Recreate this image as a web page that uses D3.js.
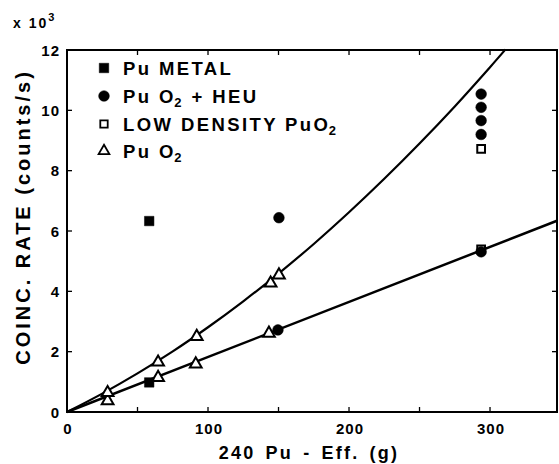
<!DOCTYPE html>
<html><head><meta charset="utf-8">
<script src="https://cdn.jsdelivr.net/npm/d3@7"></script>
<style>
html,body{margin:0;padding:0;background:#fff;}
svg text{font-family:"Liberation Sans",Arial,sans-serif;font-weight:bold;fill:#000;}
</style></head>
<body>
<svg id="chart" width="559" height="464"></svg>
<script>
// ---- data (x: 240Pu-eff grams, y: coinc. rate in 10^3 counts/s) ----
const xTicks = [0, 100, 200, 300];
const yTicks = [0, 2, 4, 6, 8, 10, 12];
// Pu METAL (filled squares)
const metalX = [58.3, 58.3];
const metalY = [0.98, 6.33];
// PuO2 + HEU (filled circles)
const heuX = [149.6, 150.3, 293.7, 293.7, 293.7, 293.7, 293.7];
const heuY = [2.72, 6.44, 5.31, 9.20, 9.66, 10.10, 10.54];
// LOW DENSITY PuO2 (open squares)
const lowX = [293.7, 293.7];
const lowY = [5.39, 8.72];
// PuO2 (open triangles)
const puo2X = [28.8, 28.8, 64.6, 64.6, 91.3, 92.0, 143.2, 144.4, 150.3];
const puo2Y = [0.37, 0.64, 1.14, 1.65, 1.59, 2.50, 2.61, 4.27, 4.54];
// Upper curve
const curveX = [0, 25, 50, 75, 100, 125, 150, 175, 200, 225, 250, 275, 300, 311];
const curveY = [0, 0.61, 1.28, 2.01, 2.81, 3.67, 4.59, 5.57, 6.62, 7.73, 8.90, 10.13, 11.43, 12.02];
// Lower straight line
const lineX = [0, 347.5];
const lineY = [0, 6.34];
const legendLabels = ["Pu METAL", "Pu O|2| + HEU", "LOW DENSITY PuO|2", "Pu O|2"];

// ---- layout ----
const L = 67, R = 557, T = 50, B = 412;
const svg = d3.select("#chart");
const x = d3.scaleLinear().domain([0, 347.5]).range([L, R]);
const y = d3.scaleLinear().domain([0, 12]).range([B, T]);

// frame
svg.append("rect").attr("x", L).attr("y", T).attr("width", R - L).attr("height", B - T)
  .attr("fill", "none").attr("stroke", "#000").attr("stroke-width", 2);

// ticks (inward)
const xMinor = d3.range(0, 347, 50);
const yMinor = d3.range(0, 12.01, 2);
const tk = svg.append("g").attr("stroke", "#000").attr("stroke-width", 1.3);
xMinor.forEach(v => {
  tk.append("line").attr("x1", x(v)).attr("x2", x(v)).attr("y1", B).attr("y2", B - 5);
  tk.append("line").attr("x1", x(v)).attr("x2", x(v)).attr("y1", T).attr("y2", T + 5);
});
yMinor.forEach(v => {
  tk.append("line").attr("x1", L).attr("x2", L + 5).attr("y1", y(v)).attr("y2", y(v));
  tk.append("line").attr("x1", R).attr("x2", R - 5).attr("y1", y(v)).attr("y2", y(v));
});

// tick labels
svg.append("g").selectAll("text").data(xTicks).join("text")
  .attr("x", d => x(d) + 1).attr("y", 434).attr("text-anchor", "middle")
  .attr("font-size", 15).attr("letter-spacing", 1).text(d => d);
svg.append("g").selectAll("text").data(yTicks).join("text")
  .attr("x", 60).attr("y", d => y(d) + 5.5).attr("text-anchor", "end")
  .attr("font-size", 15).attr("letter-spacing", 1).text(d => d);

// multiplier
const mult = svg.append("text").attr("x", 13).attr("y", 28).attr("font-size", 14).attr("letter-spacing", 2);
mult.append("tspan").text("x 10");
mult.append("tspan").attr("dy", -7).attr("font-size", 11).text("3");

// axis titles
svg.append("text").attr("x", 309).attr("y", 459).attr("text-anchor", "middle")
  .attr("font-size", 18).attr("letter-spacing", 2.2).attr("word-spacing", 3)
  .text("240 Pu - Eff. (g)");
svg.append("text").attr("transform", "translate(30,217) rotate(-90)").attr("text-anchor", "middle")
  .attr("font-size", 20).attr("letter-spacing", 3).text("COINC. RATE (counts/s)");

// lines
const ln = d3.line().x(d => x(d[0])).y(d => y(d[1]));
svg.append("path").datum(d3.zip(lineX, lineY)).attr("d", ln)
  .attr("fill", "none").attr("stroke", "#000").attr("stroke-width", 2.5);
const lnc = d3.line().x(d => x(d[0])).y(d => y(d[1])).curve(d3.curveCatmullRom);
svg.append("path").datum(d3.zip(curveX, curveY)).attr("d", lnc)
  .attr("fill", "none").attr("stroke", "#000").attr("stroke-width", 2.2);

// markers
const sq = d3.symbol().type(d3.symbolSquare);
const ci = d3.symbol().type(d3.symbolCircle);
const tr = d3.symbol().type(d3.symbolTriangle);
function drawMarkers(xs, ys, sym, size, filled) {
  svg.append("g").selectAll("path").data(d3.zip(xs, ys)).join("path")
    .attr("transform", d => `translate(${x(d[0])},${y(d[1])})`)
    .attr("d", sym.size(size)())
    .attr("fill", filled ? "#000" : "#fff")
    .attr("stroke", "#000").attr("stroke-width", filled ? 0.5 : 2);
}
drawMarkers(puo2X, puo2Y, tr, 60, false);
drawMarkers(lowX, lowY, sq, 60, false);
drawMarkers(metalX, metalY, sq, 90, true);
drawMarkers(heuX, heuY, ci, 90, true);

// legend
const legSyms = [[sq, 90, true], [ci, 90, true], [sq, 55, false], [tr, 50, false]];
const legY = [68, 96, 124, 151];
legendLabels.forEach((lab, i) => {
  const [s, sz, f] = legSyms[i];
  svg.append("path").attr("transform", `translate(104,${legY[i]})`)
    .attr("d", s.size(sz)()).attr("fill", f ? "#000" : "#fff")
    .attr("stroke", "#000").attr("stroke-width", f ? 0.5 : 1.8);
  const t = svg.append("text").attr("x", 123).attr("y", legY[i] + 7)
    .attr("font-size", 18.5).attr("letter-spacing", 2.4);
  lab.split("|").forEach((part, j) => {
    if (j % 2 === 1) {
      t.append("tspan").attr("font-size", 13).attr("dy", 4).attr("dx", -1.5).text(part);
    } else {
      const ts = t.append("tspan").text(part);
      if (j > 0) ts.attr("dy", -4);
    }
  });
});
</script>
</body></html>
